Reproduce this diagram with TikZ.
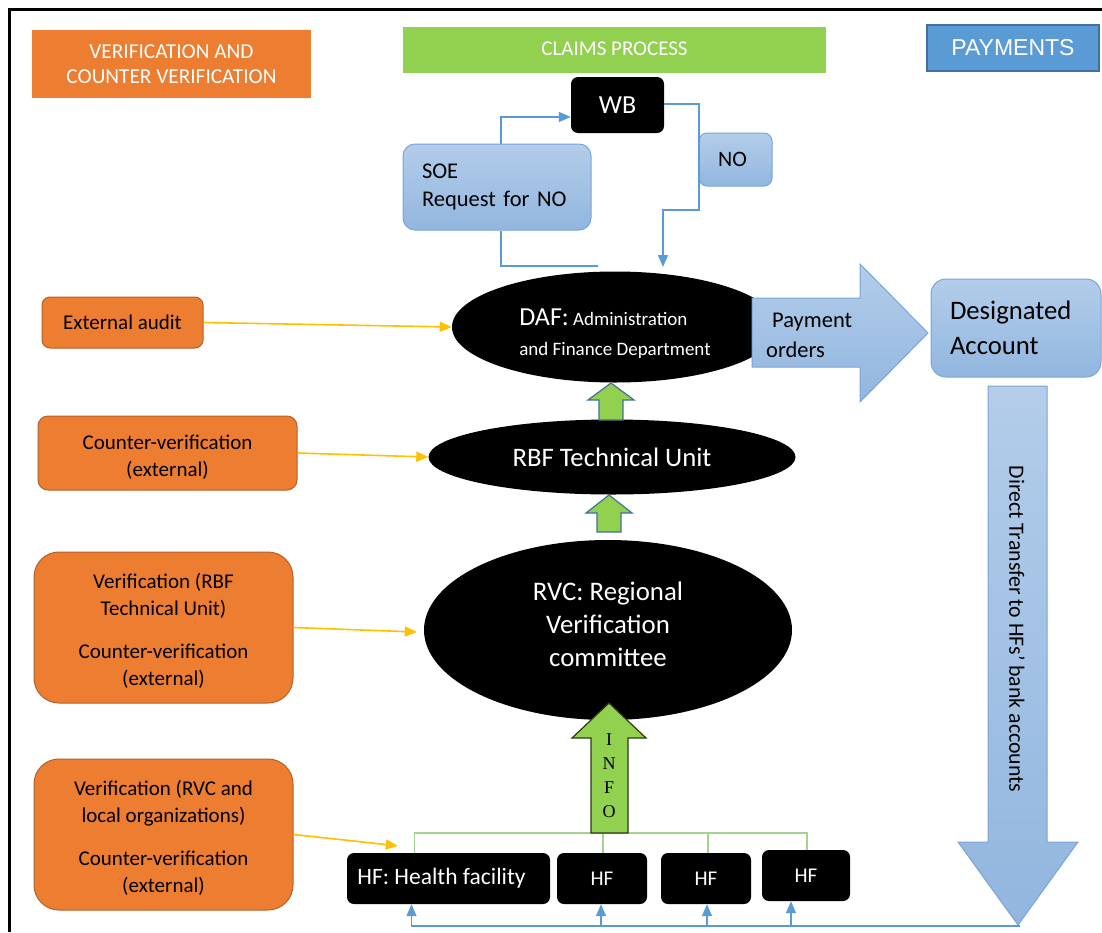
\documentclass[tikz,border=0pt]{standalone}
\usepackage{fontspec}
\setmainfont{Carlito}
\newfontfamily\arialf{Liberation Sans}
\newfontfamily\timesf{Liberation Serif}
\usetikzlibrary{shapes.geometric,arrows.meta,calc}
\definecolor{orng}{HTML}{ED7D31}
\definecolor{orngb}{HTML}{B4622A}
\definecolor{grn}{HTML}{92D050}
\definecolor{glc}{HTML}{A9D18E}
\definecolor{bl}{HTML}{5B9BD5}
\definecolor{blb}{HTML}{41719C}
\definecolor{ltop}{HTML}{B3CDEA}
\definecolor{lbot}{HTML}{92B6DF}
\definecolor{lbord}{HTML}{78A6DA}
\definecolor{yel}{HTML}{FFC000}
\definecolor{infob}{HTML}{2E3A14}
\newcommand\myfs[2]{\fontsize{#1}{#2}\selectfont}
\tikzset{
  obox/.style={fill=orng, draw=orngb, line width=1pt, text=black, align=center, font=\myfs{21}{27}, inner sep=0pt},
  blackbox/.style={fill=black, rounded corners=7pt, text=white, align=center, inner sep=0pt},
  lbox/.style={top color=ltop, bottom color=lbot, draw=lbord, line width=1pt, text=black},
  blackell/.style={ellipse, fill=black, text=white, align=center, inner sep=0pt},
  barrow/.style={draw=bl, line width=1.6pt, -{Triangle[length=12pt,width=10pt]}},
  bline/.style={draw=bl, line width=1.6pt},
  yarrow/.style={draw=yel, line width=1.6pt, -{Triangle[length=12pt,width=10pt]}},
  gl/.style={draw=glc, line width=1.4pt},
  garrow/.style={fill=grn, draw=blb, line width=1.2pt, line join=miter},
}
\begin{document}
\begin{tikzpicture}[x=1pt,y=-1pt]
\useasboundingbox (0,0) rectangle (1102,932);
\fill[white] (0,0) rectangle (1102,932);
% frame
\draw[line width=2.2pt] (9.5,932) -- (9.5,9.5) -- (1102,9.5);

% headers
\node[fill=orng, minimum width=279pt, minimum height=68pt, text=white, align=center, font=\myfs{21.3}{25.5}, inner sep=0pt] (hv) at (171.5,64) {VERIFICATION AND\\COUNTER VERIFICATION};
\node[fill=grn, minimum width=423pt, minimum height=46pt, text=white, font=\myfs{21}{24}, inner sep=0pt] (hc) at (614.5,50) {\raisebox{2pt}{CLAIMS PROCESS}};
\node[fill=bl, draw=blb, line width=2pt, minimum width=172pt, minimum height=46pt, text=white, font=\arialf\myfs{23}{27}, inner sep=0pt] (hp) at (1013,48) {\raisebox{-1.5pt}{PAYMENTS}};

% left orange boxes
\node[obox, minimum width=161pt, minimum height=51pt, rounded corners=8pt] (ext) at (122.5,322.5) {External audit};
\node[obox, minimum width=259pt, minimum height=74pt, rounded corners=10pt] (cv) at (167.5,453) {\rule{0pt}{22pt}Counter-verification\\(external)};
\node[obox, minimum width=259pt, minimum height=151pt, rounded corners=25pt] (vr) at (163.5,627.5) {\rule{0pt}{22pt}Verification (RBF\\Technical Unit)\\[16pt]Counter-verification\\(external)};
\node[obox, minimum width=259pt, minimum height=151pt, rounded corners=25pt] (vh) at (163.5,834.5) {\rule{0pt}{22pt}Verification (RVC and\\local organizations)\\[16pt]Counter-verification\\(external)};

% claims process top
\node[blackbox, minimum width=93pt, minimum height=56pt, font=\myfs{26}{30}] (wb) at (617.5,105) {WB};
\node[lbox, rounded corners=12pt, minimum width=188pt, minimum height=86pt, text width=150pt, inner xsep=19pt, inner ysep=0pt, align=left, font=\myfs{22.5}{28}] (soe) at (497,187) {SOE\\Request for NO};
\node[lbox, rounded corners=8pt, minimum width=73pt, minimum height=53pt, inner sep=0pt, font=\myfs{22}{26}] (no) at (735.5,159.5) {\hspace*{-6pt}NO};

% ellipses
\node[blackell, align=left, minimum width=326pt, minimum height=111pt, font=\myfs{19}{30}] (daf) at (615,327) {\rule{0pt}{30pt}{\myfs{26}{30}DAF:} Administration\\and Finance Department};
\node[blackell, minimum width=367pt, minimum height=75pt, font=\myfs{26.7}{33}] (rbf) at (612,457) {RBF Technical Unit};
\node[blackell, minimum width=368pt, minimum height=180pt, font=\myfs{26.8}{33}] (rvc) at (608,630) {RVC: Regional\\Verification\\committee\rule[-12pt]{0pt}{0pt}};

% connectors WB
\coordinate (nobend) at (699,210);
\coordinate (daftop) at (663,267);
\coordinate (soeend) at (598,266);
\draw[barrow] ([xshift=4pt]soe.north) |- ([yshift=-12pt]wb.west);
\draw[barrow] ([yshift=1pt]wb.east) -| (nobend) -| (daftop);
\draw[bline] ([xshift=4pt]soe.south) |- (soeend);

% small green arrows
\path[garrow] (599,420) -- (599,400) -- (588,400) -- (611,383) -- (634,400) -- (623,400) -- (623,420) -- cycle;
\path[garrow] (597,532) -- (597,513) -- (586,513) -- (609,495) -- (632,513) -- (621,513) -- (621,532) -- cycle;

% payment arrow
\path[top color=ltop, bottom color=lbot, draw=lbord, line width=1pt] (752,298) -- (860,298) -- (860,264) -- (928,333) -- (860,402) -- (860,367) -- (752,367) -- cycle;
\node[anchor=west, align=left, inner sep=0pt, font=\myfs{22.5}{30}] (pay) at (766,335) {\hspace*{6pt}Payment\\orders};

% designated account
\node[lbox, rounded corners=15pt, minimum width=170pt, minimum height=98pt, text width=132pt, inner xsep=19pt, inner ysep=0pt, align=left, font=\myfs{26.7}{35}] (da) at (1016,328) {\rule[-4pt]{0pt}{0pt}Designated\\Account};

% down arrow
\path[top color=ltop, bottom color=lbot, draw=lbord, line width=1pt] (988,386) -- (1047,386) -- (1047,842) -- (1078,842) -- (1018,925) -- (958,842) -- (988,842) -- cycle;
\node[rotate=-90, inner sep=0pt, font=\myfs{21.8}{26}] (dt) at (1017,629) {Direct Transfer to HFs’ bank accounts};

% HF boxes
\node[blackbox, minimum width=203pt, minimum height=51pt, font=\myfs{23.5}{27}] (hf1) at (448.5,878.5) {HF: Health facility\hspace*{14pt}};
\node[blackbox, minimum width=90pt, minimum height=51pt, font=\myfs{21}{25}] (hf2) at (602,878.5) {HF};
\node[blackbox, minimum width=90pt, minimum height=51pt, font=\myfs{21}{25}] (hf3) at (706,878.5) {HF};
\node[blackbox, minimum width=88pt, minimum height=51pt, font=\myfs{21}{25}] (hf4) at (806,875.5) {HF};

% INFO arrow
\coordinate (bus) at (609,833);
\draw[gl] ([xshift=-34pt]hf1.north) |- ([xshift=1pt]hf4.north |- bus) -- ([xshift=1pt]hf4.north);
\draw[gl] ([xshift=1pt]hf2.north) -- ([xshift=1pt]hf2.north |- bus);
\draw[gl] ([xshift=2pt]hf3.north) -- ([xshift=2pt]hf3.north |- bus);
\path[fill=grn, draw=infob, line width=1.2pt] (591,833) -- (591,738) -- (572,738) -- (609,703) -- (646,738) -- (628,738) -- (628,833) -- cycle;
\node[align=center, inner sep=0pt, font=\timesf\myfs{18}{24}] (info) at (609,776) {I\\N\\F\\O};

% bottom blue distribution
\coordinate (dtip) at (1020,926);
\draw[barrow] (dtip) -| ([xshift=-37pt]hf1.south);
\draw[barrow] ([xshift=-1pt]hf2.south |- dtip) -- ([xshift=-1pt]hf2.south);
\draw[barrow] ([xshift=1pt]hf3.south |- dtip) -- ([xshift=1pt]hf3.south);
\draw[barrow] ([xshift=-15pt]hf4.south |- dtip) -- ([xshift=-15pt]hf4.south);

% yellow arrows
\draw[yarrow] (ext.east) -- (daf.west);
\draw[yarrow] (cv.east) -- (rbf.west);
\draw[yarrow] (vr.east) -- ([xshift=-7pt,yshift=-2pt]rvc.west);
\draw[yarrow] (vh.east) -- ([xshift=51pt,yshift=7pt]hf1.north west);
\end{tikzpicture}
\end{document}
